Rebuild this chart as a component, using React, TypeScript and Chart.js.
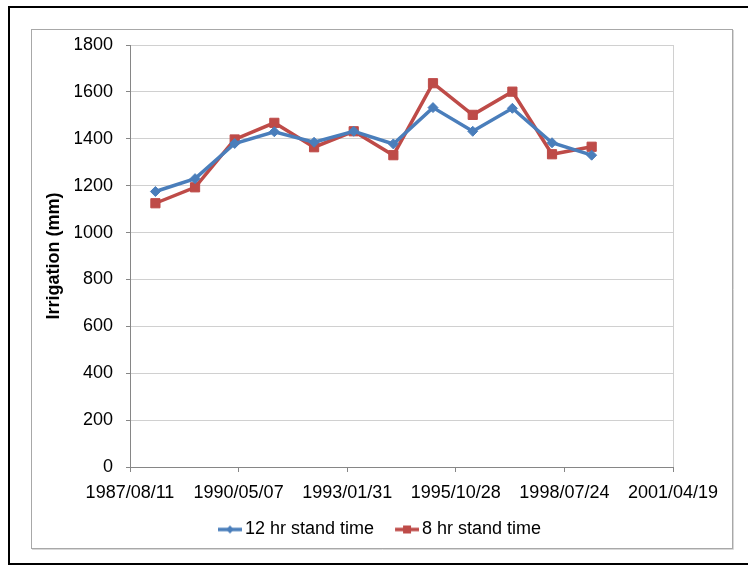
import React, { useEffect, useRef } from 'react';
import { Chart, registerables } from 'chart.js';

Chart.register(...registerables);

// ---- data ----
const DATES = [
  '1988/04/01', '1989/04/01', '1990/04/01', '1991/04/01', '1992/04/01', '1993/04/01',
  '1994/04/01', '1995/04/01', '1996/04/01', '1997/04/01', '1998/04/01', '1999/04/01',
];
const SERIES_12HR = [1175, 1230, 1380, 1430, 1385, 1432, 1378, 1533, 1432, 1530, 1383, 1330];
const SERIES_8HR = [1125, 1193, 1397, 1468, 1364, 1432, 1330, 1637, 1502, 1601, 1334, 1366];
const SERIES_NAMES = ['12 hr stand time', '8 hr stand time'];
const X_MIN_DATE = '1987/08/11';
const X_MAX_DATE = '2001/04/19';
const X_STEP_DAYS = 1000;
const Y_MIN = 0;
const Y_MAX = 1800;
const Y_STEP = 200;
const Y_TITLE = 'Irrigation (mm)';

const BLUE = '#4A7EBB';
const RED = '#BE4B48';
const FONT = '"Liberation Sans", Arial, Helvetica, sans-serif';

const EPOCH = Date.UTC(1899, 11, 30);
const toSerial = (s: string) => {
  const [y, m, d] = s.split('/').map(Number);
  return Math.round((Date.UTC(y, m - 1, d) - EPOCH) / 86400000);
};
const fmtSerial = (v: number) => {
  const dt = new Date(EPOCH + Math.round(v) * 86400000);
  const p = (n: number) => String(n).padStart(2, '0');
  return `${dt.getUTCFullYear()}/${p(dt.getUTCMonth() + 1)}/${p(dt.getUTCDate())}`;
};

function legendImage(color: string, shape: 'diamond' | 'square') {
  const c = document.createElement('canvas');
  c.width = 41;
  c.height = 14;
  const g = c.getContext('2d')!;
  g.strokeStyle = color;
  g.lineWidth = 3.5;
  g.beginPath();
  g.moveTo(17, 7);
  g.lineTo(41, 7);
  g.stroke();
  g.fillStyle = color;
  if (shape === 'diamond') {
    g.beginPath();
    g.moveTo(29, 3);
    g.lineTo(33, 7);
    g.lineTo(29, 11);
    g.lineTo(25, 7);
    g.closePath();
    g.fill();
  } else {
    g.fillRect(25, 3, 8, 8);
  }
  return c;
}

const framePlugin = {
  id: 'frame',
  beforeDraw(chart: any) {
    const { ctx } = chart;
    ctx.save();
    // outer black frame
    ctx.fillStyle = '#000';
    ctx.fillRect(8, 6, 740, 2);
    ctx.fillRect(8, 6, 2, 559);
    ctx.fillRect(8, 563, 740, 2);
    // chart border
    ctx.strokeStyle = '#a8a8a8';
    ctx.lineWidth = 1;
    ctx.strokeRect(31.5, 29.5, 701, 519);
    ctx.strokeStyle = '#d8d8d8';
    ctx.beginPath();
    ctx.moveTo(733.5, 30);
    ctx.lineTo(733.5, 549.5);
    ctx.lineTo(32, 549.5);
    ctx.stroke();
    ctx.restore();
  },
};

export default function App() {
  const ref = useRef<HTMLCanvasElement | null>(null);

  useEffect(() => {
    if (!ref.current) return;
    const xs = DATES.map(toSerial);
    const xMin = toSerial(X_MIN_DATE);
    const xMax = toSerial(X_MAX_DATE);
    const imgs = [legendImage(BLUE, 'diamond'), legendImage(RED, 'square')];

    const chart = new Chart(ref.current, {
      type: 'line',
      data: {
        datasets: [
          {
            label: SERIES_NAMES[0],
            data: xs.map((x, i) => ({ x, y: SERIES_12HR[i] })),
            borderColor: BLUE,
            backgroundColor: BLUE,
            borderWidth: 3.5,
            pointStyle: 'rectRot',
            pointRadius: 5,
            pointBorderWidth: 1,
            tension: 0,
          },
          {
            label: SERIES_NAMES[1],
            data: xs.map((x, i) => ({ x, y: SERIES_8HR[i] })),
            borderColor: RED,
            backgroundColor: RED,
            borderWidth: 3.5,
            pointStyle: 'rect',
            pointRadius: 6.5,
            pointBorderWidth: 1,
            tension: 0,
          },
        ],
      },
      options: {
        responsive: false,
        animation: false,
        layout: { padding: { left: 75, right: 75, top: 45, bottom: 16.5 } },
        plugins: {
          tooltip: { enabled: false },
          legend: {
            position: 'bottom',
            labels: {
              usePointStyle: true,
              pointStyleWidth: 29,
              padding: 10,
              color: '#000',
              font: { family: FONT, size: 18 },
              generateLabels: (ch: any) => {
                const items = (Chart as any).defaults.plugins.legend.labels.generateLabels(ch);
                items.forEach((it: any, i: number) => {
                  it.pointStyle = imgs[i];
                });
                return items;
              },
            },
          },
        },
        scales: {
          x: {
            type: 'linear',
            min: xMin,
            max: xMax,
            afterFit: (s: any) => {
              s.height = 43.5;
            },
            ticks: {
              stepSize: X_STEP_DAYS,
              autoSkip: false,
              maxRotation: 0,
              padding: 10,
              color: '#000',
              font: { family: FONT, size: 18 },
              callback: (v: any) => fmtSerial(Number(v)),
            },
            grid: {
              drawOnChartArea: true,
              color: (c: any) => (c.tick && c.tick.value === xMax ? '#d0d0d0' : 'rgba(0,0,0,0)'),
              tickLength: 5,
              tickColor: '#868686',
            },
            border: { color: '#868686', width: 1 },
          },
          y: {
            min: Y_MIN,
            max: Y_MAX,
            afterFit: (s: any) => {
              s.width = 55;
            },
            ticks: {
              stepSize: Y_STEP,
              padding: 13,
              color: '#000',
              font: { family: FONT, size: 18 },
              callback: (v: any) => String(v),
            },
            grid: { color: '#d0d0d0', tickLength: 4, tickColor: '#868686' },
            border: { color: '#868686', width: 1 },
            title: {
              display: true,
              text: Y_TITLE,
              color: '#000',
              font: { family: FONT, size: 18, weight: 'bold' },
              padding: { top: -31.8, bottom: 0 },
            },
          },
        },
      },
      plugins: [framePlugin],
    } as any);

    return () => chart.destroy();
  }, []);

  return (
    <div style={{ position: 'fixed', left: 0, top: 0, width: 748, height: 565, background: '#fff' }}>
      <canvas ref={ref} width={748} height={565} style={{ display: 'block', width: 748, height: 565 }} />
    </div>
  );
}
